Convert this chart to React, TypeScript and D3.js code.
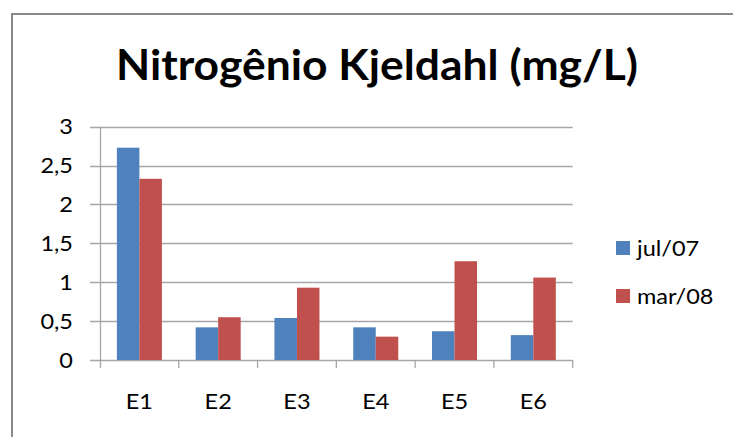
import React from "react";
import * as d3 from "d3";

const categories = ["E1", "E2", "E3", "E4", "E5", "E6"];
const seriesNames = ["jul/07", "mar/08"];
const jul07 = [2.73, 0.42, 0.54, 0.42, 0.37, 0.32];
const mar08 = [2.33, 0.55, 0.93, 0.3, 1.27, 1.06];
const yTicks = [0, 0.5, 1, 1.5, 2, 2.5, 3];
const yTickLabels = ["0", "0,5", "1", "1,5", "2", "2,5", "3"];
const colors = ["#4F81BD", "#C0504D"];
const title = "Nitrogênio Kjeldahl (mg/L)";

const W = 733;
const H = 437;
const FONT = "Lato, 'Open Sans', sans-serif";
const LABEL_SIZE = 21;
const SX = 1.12;

export default function App() {
  const series = [jul07, mar08];
  const x = d3.scaleBand<string>().domain(categories).range([100, 572.7]).paddingInner(0).paddingOuter(0);
  const y = d3.scaleLinear().domain([0, 3]).range([360, 126.7]);
  const bw = x.bandwidth();
  const barW = bw / 3.5;
  const inner = d3.scaleBand<string>().domain(seriesNames).range([0.75 * barW, 0.75 * barW + 2 * barW]);
  const grid = "#A6A6A6";

  return (
    <div style={{ position: "fixed", left: 0, top: 0, width: W, height: H, background: "#fff" }}>
      <svg width={W} height={H} style={{ display: "block" }}>
        <rect x={0} y={0} width={W} height={H} fill="#fff" />
        <rect x={12} y={14} width={W} height={H} fill="#fff" stroke="#898989" strokeWidth={2} />
        <text
          x={377}
          y={80}
          textAnchor="middle"
          fontFamily={FONT}
          fontWeight="bold"
          fontSize={42}
          textLength={522}
          lengthAdjust="spacingAndGlyphs"
          fill="#000"
        >
          {title}
        </text>
        {yTicks.map((t) => (
          <line key={"g" + t} x1={90} x2={572.7} y1={Math.round(y(t)) + 0.5} y2={Math.round(y(t)) + 0.5} stroke={grid} strokeWidth={1.3} />
        ))}
        <line x1={100.5} x2={100.5} y1={y(3)} y2={y(0) + 8} stroke={grid} strokeWidth={1.3} />
        {categories.map((c) => (
          <line key={"t" + c} x1={(x(c) as number) + bw} x2={(x(c) as number) + bw} y1={y(0)} y2={y(0) + 8} stroke={grid} strokeWidth={1.3} />
        ))}
        {series.map((vals, si) =>
          vals.map((v, ci) => (
            <rect
              key={si + "-" + ci}
              x={(x(categories[ci]) as number) + (inner(seriesNames[si]) as number)}
              y={y(v)}
              width={barW}
              height={y(0) - y(v)}
              fill={colors[si]}
            />
          ))
        )}
        {yTicks.map((t, i) => (
          <text
            key={"yl" + t}
            transform={`translate(73, ${y(t) + 7.5}) scale(${SX},1)`}
            textAnchor="end"
            fontFamily={FONT}
            fontSize={LABEL_SIZE}
            fill="#000"
          >
            {yTickLabels[i]}
          </text>
        ))}
        {categories.map((c) => (
          <text
            key={"xl" + c}
            transform={`translate(${(x(c) as number) + bw / 2}, 409) scale(${SX},1)`}
            textAnchor="middle"
            fontFamily={FONT}
            fontSize={LABEL_SIZE}
            fill="#000"
          >
            {c}
          </text>
        ))}
        {seriesNames.map((s, i) => (
          <g key={"lg" + s} transform={`translate(616, ${241 + i * 48})`}>
            <rect x={0} y={0} width={14} height={14} fill={colors[i]} />
            <text transform={`translate(21, 15) scale(${SX},1)`} fontFamily={FONT} fontSize={LABEL_SIZE} fill="#000">
              {s}
            </text>
          </g>
        ))}
      </svg>
    </div>
  );
}
